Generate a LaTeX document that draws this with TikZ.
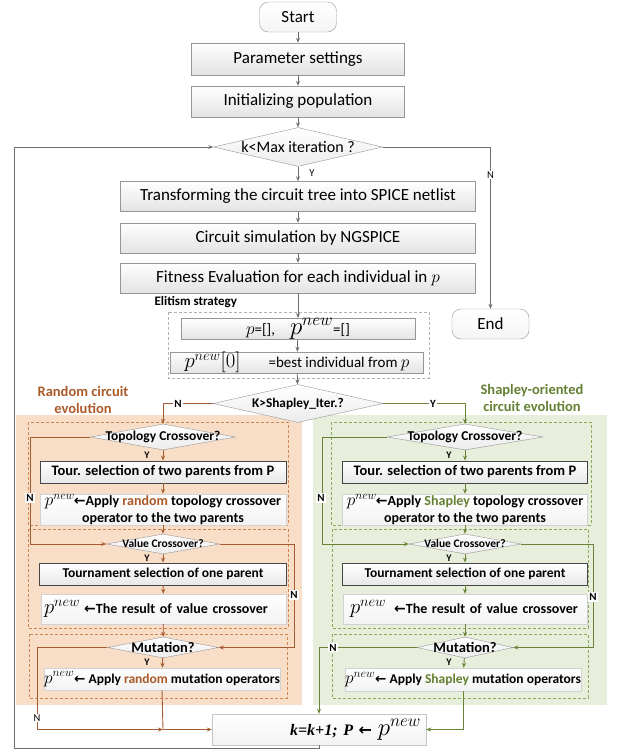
\documentclass[tikz,border=0pt]{standalone}
\usepackage[no-math]{fontspec}
\setmainfont{Carlito}
\newfontfamily\serifbi{Liberation Serif}
\newfontfamily\symfont{DejaVu Sans}
\usetikzlibrary{arrows.meta,shapes.geometric}
\definecolor{lgray}{RGB}{110,110,110}
\definecolor{bgray}{RGB}{150,150,150}
\definecolor{dgray}{RGB}{70,70,70}
\definecolor{brn}{RGB}{165,92,50}
\definecolor{brntxt}{RGB}{170,90,40}
\definecolor{orbg}{RGB}{249,222,199}
\definecolor{ordash}{RGB}{205,135,85}
\definecolor{grn}{RGB}{105,132,55}
\definecolor{grntxt}{RGB}{100,128,50}
\definecolor{grbg}{RGB}{232,238,220}
\definecolor{grdash}{RGB}{140,168,90}
\newcommand{\larr}{{\symfont\bfseries ←}}
\newcommand{\pnew}[1][20]{{\fontsize{#1}{#1}\selectfont$p^{new}$}}
\newcommand{\fmain}{\fontsize{17}{20}\selectfont}
\newcommand{\fpanel}{\fontsize{14.5}{17}\selectfont\bfseries}
\newcommand{\ftourn}{\fontsize{13.5}{16}\selectfont\bfseries}
\newcommand{\fapply}{\fontsize{14}{16.5}\selectfont\bfseries}
\tikzset{
  >={Stealth[length=5pt,width=4pt]},
  box/.style={draw=bgray, top color=white, bottom color=gray!22, inner sep=0pt, align=center, font=\fmain},
  darkbox/.style={draw=dgray, line width=0.9pt, top color=white, bottom color=gray!18, inner sep=0pt, align=center, font=\fpanel},
  lightbox/.style={draw=gray!35, top color=white, bottom color=gray!10, inner sep=0pt, align=center, font=\fapply},
  term/.style={draw=bgray, rounded corners=9pt, top color=white, bottom color=gray!8, inner sep=0pt, font=\fmain},
  dia/.style={diamond, draw=bgray, top color=white, bottom color=gray!15, inner sep=0pt},
  conn/.style={draw=lgray, line width=0.8pt, ->},
  bconn/.style={draw=brn, line width=0.9pt, ->},
  gconn/.style={draw=grn, line width=0.9pt, ->},
  ylab/.style={font=\fontsize{10}{10}\selectfont\bfseries, inner sep=1pt},
  nlab/.style={font=\fontsize{11}{11}\selectfont\bfseries, inner sep=1pt, fill=white},
  tlab/.style={font=\fontsize{10.5}{10.5}\selectfont, inner sep=1pt},
  odash/.style={draw=ordash, dash pattern=on 3pt off 2pt, line width=0.6pt},
  gdash/.style={draw=grdash, dash pattern=on 3pt off 2pt, line width=0.6pt},
  edash/.style={draw=gray!60, dash pattern=on 3pt off 2pt, line width=0.6pt},
}
\begin{document}
\begin{tikzpicture}[x=1pt,y=-1pt]
\useasboundingbox (0,0) rectangle (616,755);
% panel backgrounds
\fill[orbg] (16,415) rectangle (302,705);
\fill[grbg] (313,415) rectangle (607,705);
\draw[odash] (28,422) rectangle (288,525);
\draw[odash] (28,529) rectangle (288,628);
\draw[odash] (29,634) rectangle (287,698);
\draw[gdash] (331,422) rectangle (591,525);
\draw[gdash] (332,529) rectangle (588,628);
\draw[gdash] (332,634) rectangle (588,698);
\draw[edash] (168,312) rectangle (429,378);

% titles
\node[font=\fontsize{14.5}{17.5}\selectfont\bfseries, text=brntxt, align=center] (ltitle) at (83,400) {Random circuit\\evolution};
\node[font=\fontsize{14.5}{17.5}\selectfont\bfseries, text=grntxt, align=center] (rtitle) at (532,398) {Shapley-oriented\\circuit evolution};

% main column
\node[term, minimum width=77pt, minimum height=30pt] (start) at (298,17) {Start};
\node[box, minimum width=213pt, minimum height=32pt] (param) at (298,59) {Parameter settings};
\node[box, minimum width=213pt, minimum height=31pt] (init) at (298,101.5) {Initializing population};
\node[dia, minimum width=169pt, minimum height=39pt, label={[font=\fontsize{16}{16}\selectfont]center:k<Max iteration ?}] (kmax) at (298,147) {};
\node[box, minimum width=355pt, minimum height=30pt] (trans) at (298,196.5) {Transforming the circuit tree into SPICE netlist};
\node[box, minimum width=355pt, minimum height=30pt] (circ) at (298,238) {Circuit simulation by NGSPICE};
\node[box, minimum width=355pt, minimum height=30pt] (fit) at (298,278) {Fitness Evaluation for each individual in {\fontsize{18}{18}\selectfont$p$}};
\node[font=\fontsize{13}{13}\selectfont\bfseries, anchor=west] (elit) at (151,302) {Elitism strategy};
\node[box, font=\fontsize{15}{15}\selectfont, minimum width=234pt, minimum height=20pt] (pclr) at (298,329) {{\fontsize{17}{17}\selectfont$p$}=[],\quad \pnew[23]=[]};
\node[box, font=\fontsize{15}{15}\selectfont, minimum width=253pt, minimum height=21pt] (best) at (297,362.5) {\pnew[22]{\fontsize{20}{20}\selectfont$[0]$}\hspace{28pt}=best individual from {\fontsize{17}{17}\selectfont$p$}};
\node[term, minimum width=77pt, minimum height=30pt] (endn) at (490.5,324) {End};
\node[dia, minimum width=170pt, minimum height=38pt, label={[font=\fontsize{13.3}{13.3}\selectfont\bfseries]center:K>Shapley\_Iter.?}] (kshap) at (298,403.5) {};

% left panel
\node[dia, minimum width=145pt, minimum height=26pt, label={[font=\fontsize{13.5}{13.5}\selectfont\bfseries]center:Topology Crossover?}] (ltopo) at (163,437) {};
\node[darkbox, minimum width=246pt, minimum height=22pt] (ltour) at (163,472) {Tour. selection of two parents from P};
\node[lightbox, minimum width=246pt, minimum height=31pt] (lapply) at (163,509.5) {\pnew[17]\hspace{-1pt}\larr Apply \textcolor{brntxt}{random} topology crossover\\operator to the two parents};
\node[dia, minimum width=113pt, minimum height=20pt, label={[font=\fontsize{11.5}{11.5}\selectfont\bfseries]center:Value Crossover?}] (lval) at (163,544) {};
\node[darkbox, font=\ftourn, minimum width=247pt, minimum height=22pt] (ltourn) at (163,574) {Tournament selection of one parent};
\node[lightbox, minimum width=245pt, minimum height=30pt, text width=239pt, align=left] (lres) at (163.5,609) {\pnew[22]\hspace{4pt}\larr The result of value crossover};
\node[dia, minimum width=111pt, minimum height=21pt, label={[font=\fontsize{14.5}{14.5}\selectfont\bfseries]center:Mutation?}] (lmut) at (163,647.5) {};
\node[lightbox, font=\fontsize{13.5}{16}\selectfont\bfseries, minimum width=236pt, minimum height=22pt] (lmapply) at (162,679) {\pnew[17]\larr\ Apply \textcolor{brntxt}{random} mutation operators};

% right panel
\node[dia, minimum width=156pt, minimum height=26pt, label={[font=\fontsize{13.5}{13.5}\selectfont\bfseries]center:Topology Crossover?}] (rtopo) at (465,437) {};
\node[darkbox, minimum width=245pt, minimum height=22pt] (rtour) at (465,472) {Tour. selection of two parents from P};
\node[lightbox, minimum width=245pt, minimum height=31pt] (rapply) at (465,509.5) {\pnew[17]\hspace{-1pt}\larr Apply \textcolor{grntxt}{Shapley} topology crossover\\operator to the two parents};
\node[dia, minimum width=112pt, minimum height=20pt, label={[font=\fontsize{11.5}{11.5}\selectfont\bfseries]center:Value Crossover?}] (rval) at (465,544) {};
\node[darkbox, font=\ftourn, minimum width=245pt, minimum height=22pt] (rtourn) at (465,574) {Tournament selection of one parent};
\node[lightbox, minimum width=244pt, minimum height=30pt, text width=230pt, align=left] (rres) at (465,609) {\pnew[22]\hspace{8pt}\larr The result of value crossover};
\node[dia, minimum width=96pt, minimum height=21pt, label={[font=\fontsize{14.5}{14.5}\selectfont\bfseries]center:Mutation?}] (rmut) at (465,647.5) {};
\node[lightbox, font=\fontsize{13.5}{16}\selectfont\bfseries, minimum width=234pt, minimum height=23pt] (rmapply) at (463,679.5) {\pnew[17]\larr\ Apply \textcolor{grntxt}{Shapley} mutation operators};

% final box
\node[box, draw=gray!45, bottom color=gray!10, minimum width=214pt, minimum height=31pt, text width=204pt, align=right] (kbox) at (319,729.5) {\serifbi\fontsize{16}{16}\selectfont\bfseries\itshape k=k+1; P \larr\ \pnew[24]};

% main connectors
\draw[conn] (start) -- (param);
\draw[conn] (param) -- (init);
\draw[conn] (init) -- (kmax);
\draw[conn] (kmax) -- (trans);
\node[tlab] (ym) at (312,173) {Y};
\draw[conn] (trans) -- (circ);
\draw[conn] (circ) -- (fit);
\draw[conn] (fit) -- (pclr);
\draw[conn] (pclr) -- (best);
\draw[conn] (best) -- (kshap);
\draw[conn] (kmax.east) -| (endn.north);
\node[tlab, fill=white] (nm) at (490.5,175) {N};
\draw[conn] (kbox.south) |- (14,748) |- (kmax.west);

% split
\draw[bconn] (kshap.west) -| (ltopo.north);
\node[nlab] (nsh) at (178,403.5) {N};
\draw[gconn] (kshap.east) -| (rtopo.north);
\node[nlab] (ysh) at (433,403.5) {Y};

% left connectors
\draw[bconn] (ltopo) -- (ltour);
\node[ylab] (ly1) at (147,455) {Y};
\draw[bconn] (ltour) -- (lapply);
\draw[bconn] (lapply) -- (lval);
\draw[bconn] (ltopo.west) -- (30,437) |- (lval.west);
\node[nlab] (ln1) at (30,498) {N};
\draw[bconn] (lval) -- (ltourn);
\node[ylab] (ly2) at (147,558) {Y};
\draw[bconn] (ltourn) -- (lres);
\draw[bconn] (lres) -- (lmut);
\draw[bconn] (lval.east) -- (294,544) |- (lmut.east);
\node[nlab] (ln2) at (294,595) {N};
\draw[bconn] (lmut) -- (lmapply);
\node[ylab] (ly3) at (147,662) {Y};
\coordinate (ljoin) at (163,729.5);
\draw[bconn] (lmut.west) -- (37,647.5) |- (ljoin);
\node[tlab, fill=white] (ln3) at (37,718) {N};
\draw[bconn] (lmapply.south) -- (ljoin) -- (kbox.west);

% right connectors
\draw[gconn] (rtopo) -- (rtour);
\node[ylab] (ry1) at (449,455) {Y};
\draw[gconn] (rtour) -- (rapply);
\draw[gconn] (rapply) -- (rval);
\draw[gconn] (rtopo.west) -- (322,437) |- (rval.west);
\node[nlab] (rn1) at (321,498) {N};
\draw[gconn] (rval) -- (rtourn);
\node[ylab] (ry2) at (449,558) {Y};
\draw[gconn] (rtourn) -- (rres);
\draw[gconn] (rres) -- (rmut);
\draw[gconn] (rval.east) -- (593,544) |- (rmut.east);
\node[nlab] (rn2) at (593,597) {N};
\draw[gconn] (rmut) -- (rmapply);
\node[ylab] (ry3) at (449,662) {Y};
\draw[gconn] (rmut.west) -| (kbox.north);
\node[nlab] (rn3) at (333,647.5) {N};
\draw[gconn] (rmapply.south) |- (kbox.east);
\end{tikzpicture}
\end{document}
